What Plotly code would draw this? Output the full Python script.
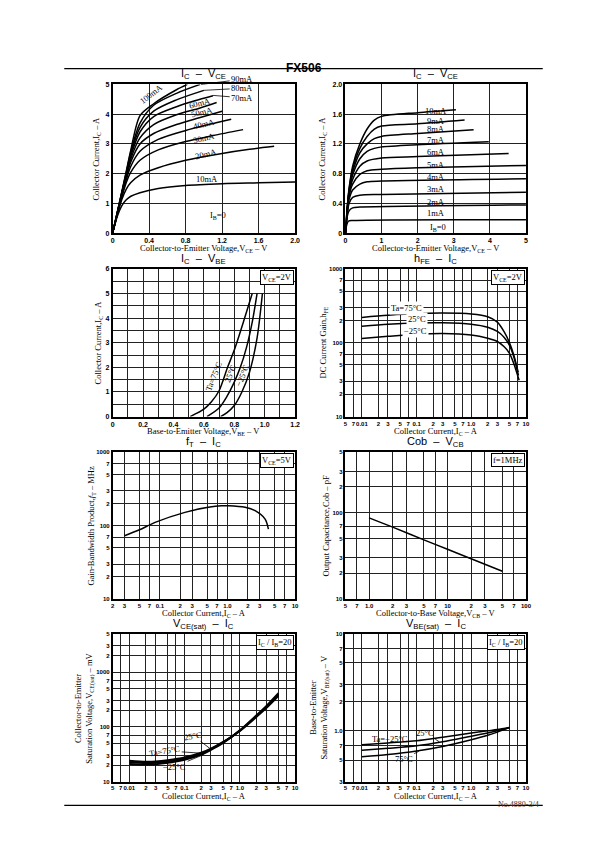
import math
import plotly.graph_objects as go

# ---------------- DATA ----------------
# Panel 1 : IC - VCE (IB = 10 ... 100 mA)
p1_names = ["10mA", "20mA", "30mA", "40mA", "50mA", "60mA", "70mA", "80mA", "90mA", "100mA"]
p1_vce = [
    [0, 0.05, 0.1, 0.15, 0.2, 0.3, 0.5, 0.8, 1.2, 1.6, 2.0],
    [0, 0.05, 0.1, 0.15, 0.2, 0.3, 0.5, 0.8, 1.2, 1.5, 1.77],
    [0, 0.05, 0.1, 0.15, 0.2, 0.3, 0.5, 0.8, 1.1, 1.43],
    [0, 0.05, 0.1, 0.15, 0.2, 0.3, 0.5, 0.8, 1.05, 1.3],
    [0, 0.05, 0.1, 0.15, 0.2, 0.3, 0.45, 0.7, 0.95, 1.2],
    [0, 0.05, 0.1, 0.15, 0.2, 0.3, 0.45, 0.7, 0.95, 1.14],
    [0, 0.05, 0.1, 0.15, 0.2, 0.3, 0.45, 0.7, 0.9, 1.1],
    [0, 0.05, 0.1, 0.15, 0.2, 0.3, 0.45, 0.7, 1.0],
    [0, 0.05, 0.1, 0.15, 0.2, 0.3, 0.45, 0.7, 0.96],
    [0, 0.05, 0.1, 0.15, 0.2, 0.3, 0.45, 0.7, 0.82],
]
p1_ic = [
    [0, 0.55, 0.92, 1.12, 1.24, 1.36, 1.5, 1.6, 1.66, 1.69, 1.72],
    [0, 0.6, 1.12, 1.48, 1.7, 1.95, 2.2, 2.45, 2.68, 2.82, 2.92],
    [0, 0.62, 1.2, 1.7, 2.05, 2.45, 2.8, 3.08, 3.28, 3.48],
    [0, 0.63, 1.25, 1.8, 2.25, 2.75, 3.15, 3.45, 3.65, 3.83],
    [0, 0.64, 1.28, 1.88, 2.4, 3.0, 3.35, 3.65, 3.88, 4.1],
    [0, 0.65, 1.3, 1.92, 2.5, 3.2, 3.65, 3.98, 4.2, 4.39],
    [0, 0.66, 1.32, 1.96, 2.6, 3.4, 3.92, 4.25, 4.45, 4.62],
    [0, 0.67, 1.34, 2.0, 2.68, 3.55, 4.1, 4.48, 4.8],
    [0, 0.68, 1.36, 2.04, 2.74, 3.7, 4.3, 4.7, 5.0],
    [0, 0.69, 1.38, 2.08, 2.8, 3.95, 4.35, 4.82, 5.0],
]

# Panel 2 : IC - VCE (IB = 1 ... 10 mA)
p2_names = ["1mA", "2mA", "3mA", "4mA", "5mA", "6mA", "7mA", "8mA", "9mA", "10mA"]
p2_vce = [
    [0, 0.03, 0.08, 0.2, 5],
    [0, 0.04, 0.1, 0.2, 0.4, 5],
    [0, 0.05, 0.1, 0.2, 0.4, 1, 5],
    [0, 0.05, 0.1, 0.2, 0.4, 0.6, 1, 5],
    [0, 0.05, 0.1, 0.2, 0.4, 0.6, 1, 2, 5],
    [0, 0.05, 0.1, 0.2, 0.4, 0.6, 1, 2, 4.52],
    [0, 0.05, 0.1, 0.2, 0.4, 0.6, 0.8, 1, 2, 3.97],
    [0, 0.05, 0.1, 0.2, 0.4, 0.6, 0.8, 1, 2, 3.55],
    [0, 0.05, 0.1, 0.2, 0.4, 0.6, 0.8, 1, 2, 3.3],
    [0, 0.05, 0.1, 0.2, 0.4, 0.6, 0.8, 1, 2, 3.06],
]
p2_ic = [
    [0, 0.1, 0.16, 0.17, 0.18],
    [0, 0.2, 0.3, 0.34, 0.35, 0.38],
    [0, 0.25, 0.4, 0.48, 0.51, 0.52, 0.55],
    [0, 0.28, 0.45, 0.58, 0.66, 0.69, 0.7, 0.73],
    [0, 0.3, 0.5, 0.66, 0.79, 0.84, 0.86, 0.88, 0.91],
    [0, 0.3, 0.52, 0.72, 0.9, 0.97, 1.01, 1.03, 1.07],
    [0, 0.32, 0.55, 0.78, 1.0, 1.1, 1.14, 1.16, 1.19, 1.23],
    [0, 0.33, 0.56, 0.82, 1.08, 1.2, 1.27, 1.3, 1.34, 1.39],
    [0, 0.34, 0.58, 0.86, 1.14, 1.3, 1.4, 1.44, 1.47, 1.52],
    [0, 0.35, 0.6, 0.9, 1.2, 1.4, 1.52, 1.57, 1.62, 1.66],
]
p2_label_ic = [0.27, 0.42, 0.59, 0.76, 0.92, 1.09, 1.25, 1.40, 1.51, 1.64]

# Panel 3 : IC - VBE
p3_vbe_75 = [0.51, 0.6, 0.65, 0.7, 0.756, 0.8, 0.86, 0.918]
p3_ic_75 = [0, 0.3, 0.6, 1.05, 2.0, 2.7, 3.84, 5.0]
p3_vbe_25 = [0.62, 0.7, 0.75, 0.8, 0.84, 0.88, 0.92, 0.95]
p3_ic_25 = [0, 0.35, 0.8, 1.4, 2.0, 2.8, 3.9, 5.0]
p3_vbe_m25 = [0.71, 0.75, 0.8, 0.85, 0.9, 0.95, 0.985]
p3_ic_m25 = [0, 0.15, 0.45, 1.0, 1.8, 3.2, 5.0]

# Panel 4 : hFE - IC
p4_ic = [0.01, 0.03, 0.1, 0.3, 1.0, 2.0, 3.0, 4.0, 5.0, 6.0]
p4_hfe_75 = [220, 235, 248, 252, 245, 225, 190, 140, 100, 68]
p4_hfe_25 = [167, 178, 185, 186, 178, 162, 142, 118, 92, 64]
p4_hfe_m25 = [114, 122, 130, 133, 127, 115, 104, 88, 72, 52]
p4_end_ic = [7.2, 7.3, 7.5]
p4_end_hfe = [40, 36, 31]

# Panel 5 : fT - IC
p5_ic = [0.03, 0.05, 0.085, 0.235, 0.52, 0.82, 1.03, 1.82, 2.56, 3.6, 4.03]
p5_ft = [73, 88, 111, 152, 178, 187, 187, 178, 160, 123, 90]

# Panel 6 : Cob - VCB
p6_vcb = [1, 2, 5, 10, 20, 50]
p6_cob = [87, 68, 48.5, 37.7, 29.3, 21]

# Panel 7 : VCE(sat) - IC
p7_ic = [0.01, 0.02, 0.03, 0.05, 0.1, 0.2, 0.3, 0.5, 1.0, 2.0, 3.0, 5.0]
p7_v_75 = [24, 23, 23.2, 24.5, 27.5, 33.5, 40, 53, 84, 152, 220, 370]
p7_v_25 = [22.5, 21.8, 22, 23.2, 26, 32, 39, 52, 85, 158, 230, 390]
p7_v_m25 = [21, 20.5, 20.8, 22, 25, 31, 38, 51, 86, 162, 238, 410]

# Panel 8 : VBE(sat) - IC
p8_ic = [0.01, 0.03, 0.1, 0.3, 1.0, 2.0, 3.0, 5.0]
p8_v_m25 = [0.72, 0.75, 0.79, 0.86, 0.95, 1.0, 1.03, 1.08]
p8_v_25 = [0.63, 0.66, 0.70, 0.77, 0.88, 0.95, 1.0, 1.08]
p8_v_75 = [0.54, 0.57, 0.62, 0.69, 0.81, 0.90, 0.97, 1.08]

# Tick labels
lin1_x = [0, 0.4, 0.8, 1.2, 1.6, 2.0]
lin1_xt = ["0", "0.4", "0.8", "1.2", "1.6", "2.0"]
lin1_y = [0, 1, 2, 3, 4, 5]
lin2_x = [0, 1, 2, 3, 4, 5]
lin2_y = [0, 0.4, 0.8, 1.2, 1.6, 2.0]
lin2_yt = ["0", "0.4", "0.8", "1.2", "1.6", "2.0"]
lin3_x = [0, 0.2, 0.4, 0.6, 0.8, 1.0, 1.2]
lin3_xt = ["0", "0.2", "0.4", "0.6", "0.8", "1.0", "1.2"]
lin3_y = [0, 1, 2, 3, 4, 5, 6]
logA_x = [0.005, 0.007, 0.01, 0.02, 0.03, 0.05, 0.07, 0.1, 0.2, 0.3, 0.5, 0.7, 1, 2, 3, 5, 7, 10]
logA_xt = ["5", "7", "0.01", "2", "3", "5", "7", "0.1", "2", "3", "5", "7", "1.0", "2", "3", "5", "7", "10"]
logB_x = [0.02, 0.03, 0.05, 0.07, 0.1, 0.2, 0.3, 0.5, 0.7, 1, 2, 3, 5, 7, 10]
logB_xt = ["2", "3", "5", "7", "0.1", "2", "3", "5", "7", "1.0", "2", "3", "5", "7", "10"]
logC_x = [0.5, 0.7, 1, 2, 3, 5, 7, 10, 20, 30, 50, 70, 100]
logC_xt = ["5", "7", "1.0", "2", "3", "5", "7", "10", "2", "3", "5", "7", "100"]
logY1000 = [10, 20, 30, 50, 70, 100, 200, 300, 500, 700, 1000]
logY1000_t = ["10", "2", "3", "5", "7", "100", "2", "3", "5", "7", "1000"]
logY500 = [10, 20, 30, 50, 70, 100, 200, 300, 500]
logY500_t = ["10", "2", "3", "5", "7", "100", "2", "3", "5"]
logY5000 = [10, 20, 30, 50, 70, 100, 200, 300, 500, 700, 1000, 2000, 3000, 5000]
logY5000_t = ["10", "2", "3", "5", "7", "100", "2", "3", "5", "7", "1000", "2", "3", "5"]
logY10 = [0.3, 0.5, 0.7, 1, 2, 3, 5, 7, 10]
logY10_t = ["3", "5", "7", "1.0", "2", "3", "5", "7", "10"]

# ---------------- LAYOUT ----------------
W, H = 595, 842
COLS = [(104, 289), (340, 523)]
ROWS = [(73, 223), (259, 408), (444, 592), (627, 776)]
SERIF = "Liberation Serif"
SANS = "Liberation Sans"
L = math.log10

fig = go.Figure()
layout = {}
ann = []
TICKFONT = dict(family=SANS, size=7, color="black", weight="bold")
LOGFONT = dict(family=SANS, size=6, color="black", weight="bold")


def names(i):
    return ("x" if i == 1 else f"x{i}", "y" if i == 1 else f"y{i}")


def setup(i, col, row, xcfg, ycfg):
    x0, x1 = COLS[col]
    y0, y1 = ROWS[row]
    xn, yn = names(i)
    common = dict(showline=True, linecolor="black", linewidth=1.5, mirror=True,
                  showgrid=True, gridcolor="#222222", gridwidth=0.8, zeroline=False,
                  ticks="", fixedrange=True, tickangle=0, tickfont=TICKFONT)
    layout["xaxis" if i == 1 else f"xaxis{i}"] = {**common, "domain": [x0 / W, x1 / W], "anchor": yn, **xcfg}
    layout["yaxis" if i == 1 else f"yaxis{i}"] = {**common, "domain": [1 - y1 / H, 1 - y0 / H], "anchor": xn, **ycfg}


def titles(col, row, title, ytitle, xtitle, yx, cond=None):
    x0, x1 = COLS[col]
    y0, y1 = ROWS[row]
    ann.append(dict(text=title, x=(x0 + x1) / 2 / W, y=1 - (y0 - 1) / H, xref="paper", yref="paper",
                    xanchor="center", yanchor="bottom", showarrow=False,
                    font=dict(family=SANS, size=11, color="black")))
    ann.append(dict(text=ytitle, x=yx / W, y=1 - (y0 + y1) / 2 / H, xref="paper", yref="paper",
                    xanchor="center", yanchor="middle", textangle=-90, showarrow=False,
                    font=dict(family=SERIF, size=8.5, color="black")))
    ann.append(dict(text=xtitle, x=(x0 + x1) / 2 / W, y=1 - (y1 + 15) / H, xref="paper", yref="paper",
                    xanchor="center", yanchor="middle", showarrow=False,
                    font=dict(family=SERIF, size=8.5, color="black")))
    if cond:
        ann.append(dict(text=cond, x=(x1 - 1) / W, y=1 - (y0 + 1) / H, xref="paper", yref="paper",
                        xanchor="right", yanchor="top", showarrow=False, bgcolor="white",
                        bordercolor="black", borderwidth=1, borderpad=1,
                        font=dict(family=SERIF, size=8.5, color="black")))


def line(i, x, y, w=1.5):
    xn, yn = names(i)
    fig.add_trace(go.Scatter(x=x, y=y, mode="lines", xaxis=xn, yaxis=yn, hoverinfo="skip",
                             line=dict(color="black", width=w, shape="spline", smoothing=0.8)))


def lab(i, text, x, y, angle=0, bg=None, tx=None, ty=None, size=8.5):
    xn, yn = names(i)
    d = dict(text=text, x=x, y=y, xref=xn, yref=yn, textangle=angle, showarrow=False,
             font=dict(family=SERIF, size=size, color="black"))
    if bg:
        d["bgcolor"] = bg
    if tx is not None:
        d.update(showarrow=True, x=tx, y=ty, ax=x, ay=y, axref=xn, ayref=yn,
                 arrowhead=0, arrowwidth=0.8, arrowcolor="black")
    ann.append(d)


def logx(vals, text, lo, hi):
    return dict(type="log", range=[L(lo), L(hi)], tickvals=vals, ticktext=text, tickfont=LOGFONT)


def logy(vals, text, lo, hi):
    return dict(type="log", range=[L(lo), L(hi)], tickvals=vals, ticktext=text, tickfont=LOGFONT)


# Panel 1
setup(1, 0, 0, dict(range=[0, 2], tickvals=lin1_x, ticktext=lin1_xt),
      dict(range=[0, 5], tickvals=lin1_y))
for vx, iy in zip(p1_vce, p1_ic):
    line(1, vx, iy)
titles(0, 0, "I<sub>C</sub>  –  V<sub>CE</sub>", "Collector Current,I<sub>C</sub> – A",
       "Collector-to-Emitter Voltage,V<sub>CE</sub> – V", 88)
lab(1, "10mA", 1.03, 1.83)
lab(1, "20mA", 1.02, 2.66, -14)
lab(1, "30mA", 1.0, 3.2, -14)
lab(1, "40mA", 1.0, 3.67, -14)
lab(1, "50mA", 0.98, 4.08, -14)
lab(1, "60mA", 0.96, 4.36, -14)
lab(1, "100mA", 0.42, 4.68, -38)
lab(1, "90mA", 1.42, 5.17, tx=0.97, ty=5.0)
lab(1, "80mA", 1.42, 4.87, tx=1.0, ty=4.8)
lab(1, "70mA", 1.42, 4.55, tx=1.1, ty=4.63)
lab(1, "I<sub>B</sub>=0", 1.16, 0.6)

# Panel 2
setup(2, 1, 0, dict(range=[0, 5], tickvals=lin2_x),
      dict(range=[0, 2], tickvals=lin2_y, ticktext=lin2_yt))
for vx, iy in zip(p2_vce, p2_ic):
    line(2, vx, iy)
titles(1, 0, "I<sub>C</sub>  –  V<sub>CE</sub>", "Collector Current,I<sub>C</sub> – A",
       "Collector-to-Emitter Voltage,V<sub>CE</sub> – V", 317)
for nm, yv in zip(p2_names, p2_label_ic):
    lab(2, nm, 2.5, yv)
lab(2, "I<sub>B</sub>=0", 2.55, 0.07)

# Panel 3
setup(3, 0, 1, dict(range=[0, 1.2], tickvals=lin3_x, ticktext=lin3_xt,
                    minor=dict(dtick=0.1, tick0=0, showgrid=True, gridcolor="#222222", gridwidth=0.8, ticks="")),
      dict(range=[0, 6], tickvals=lin3_y,
           minor=dict(dtick=0.5, tick0=0, showgrid=True, gridcolor="#222222", gridwidth=0.8, ticks="")))
line(3, p3_vbe_75, p3_ic_75)
line(3, p3_vbe_25, p3_ic_25)
line(3, p3_vbe_m25, p3_ic_m25)
titles(0, 1, "I<sub>C</sub>  –  V<sub>BE</sub>", "Collector Current,I<sub>C</sub> – A",
       "Base-to-Emitter Voltage,V<sub>BE</sub> – V", 90, "V<sub>CE</sub>=2V")
lab(3, "Ta=75°C", 0.665, 1.65, -68)
lab(3, "25°C", 0.77, 1.75, -68)
lab(3, "−25°C", 0.855, 1.68, -68)

# Panel 4
setup(4, 1, 1, logx(logA_x, logA_xt, 0.005, 10), logy(logY1000, logY1000_t, 10, 1000))
line(4, p4_ic + [p4_end_ic[0]], p4_hfe_75 + [p4_end_hfe[0]])
line(4, p4_ic + [p4_end_ic[1]], p4_hfe_25 + [p4_end_hfe[1]])
line(4, p4_ic + [p4_end_ic[2]], p4_hfe_m25 + [p4_end_hfe[2]])
titles(1, 1, "h<sub>FE</sub>  –  I<sub>C</sub>", "DC Current Gain,h<sub>FE</sub>",
       "Collector Current,I<sub>C</sub> – A", 318, "V<sub>CE</sub>=2V")
lab(4, "Ta=75°C", L(0.065), L(292), bg="white")
lab(4, "25°C", L(0.103), L(210), bg="white")
lab(4, "−25°C", L(0.095), L(146), bg="white")

# Panel 5
setup(5, 0, 2, logx(logB_x, logB_xt, 0.02, 10), logy(logY1000, logY1000_t, 10, 1000))
line(5, p5_ic, p5_ft)
titles(0, 2, "f<sub>T</sub>  –  I<sub>C</sub>", "Gain-Bandwidth Product,<i>f</i><sub>T</sub> – MHz",
       "Collector Current,I<sub>C</sub> – A", 83, "V<sub>CE</sub>=5V")

# Panel 6
setup(6, 1, 2, logx(logC_x, logC_xt, 0.5, 100), logy(logY500, logY500_t, 10, 500))
line(6, p6_vcb, p6_cob)
titles(1, 2, "Cob  –  V<sub>CB</sub>", "Output Capacitance,Cob – pF",
       "Collector-to-Base Voltage,V<sub>CB</sub> – V", 320, "f=1MHz")

# Panel 7
setup(7, 0, 3, logx(logA_x, logA_xt, 0.005, 10), logy(logY5000, logY5000_t, 10, 5000))
line(7, p7_ic, p7_v_75, 2)
line(7, p7_ic, p7_v_25, 2)
line(7, p7_ic, p7_v_m25, 2)
titles(0, 3, "V<sub>CE(sat)</sub>  –  I<sub>C</sub>",
       "Collector-to-Emitter<br>Saturation Voltage,V<sub>CE(sat)</sub> – mV",
       "Collector Current,I<sub>C</sub> – A", 76, "I<sub>C</sub> / I<sub>B</sub>=20")
lab(7, "Ta=75°C", L(0.043), L(36.5), -10, tx=L(0.2), ty=L(33))
lab(7, "25°C", L(0.145), L(68), -10, tx=L(0.29), ty=L(40))
lab(7, "−25°C", L(0.066), L(18.7), tx=L(0.22), ty=L(31))

# Panel 8
setup(8, 1, 3, logx(logA_x, logA_xt, 0.005, 10), logy(logY10, logY10_t, 0.3, 10))
line(8, p8_ic, p8_v_m25)
line(8, p8_ic, p8_v_25)
line(8, p8_ic, p8_v_75)
titles(1, 3, "V<sub>BE(sat)</sub>  –  I<sub>C</sub>",
       "Base-to-Emitter<br>Saturation Voltage,V<sub>BE(sat)</sub> – V",
       "Collector Current,I<sub>C</sub> – A", 314, "I<sub>C</sub> / I<sub>B</sub>=20")
lab(8, "Ta=−25°C", L(0.032), L(0.82))
lab(8, "25°C", L(0.145), L(0.96), tx=L(0.26), ty=L(0.77))
lab(8, "75°C", L(0.058), L(0.515), tx=L(0.11), ty=L(0.615))

# Page header / footer
ann.append(dict(text="<b>FX506</b>", x=297.5 / W, y=1 - 47 / H, xref="paper", yref="paper",
                showarrow=False, font=dict(family=SANS, size=12, color="black")))
ann.append(dict(text="No.4880-3/4", x=538 / W, y=1 - 806 / H, xref="paper", yref="paper",
                xanchor="right", showarrow=False, font=dict(family=SERIF, size=8, color="#333333")))
shapes = [
    dict(type="line", xref="paper", yref="paper", x0=55 / W, x1=540 / W, y0=1 - 57 / H, y1=1 - 57 / H,
         line=dict(color="black", width=1.2)),
    dict(type="line", xref="paper", yref="paper", x0=55 / W, x1=540 / W, y0=1 - 800 / H, y1=1 - 800 / H,
         line=dict(color="black", width=1.2)),
]

fig.update_layout(width=W, height=H, margin=dict(l=0, r=0, t=0, b=0), showlegend=False,
                  paper_bgcolor="white", plot_bgcolor="white", annotations=ann, shapes=shapes,
                  **layout)
fig.write_html("out.html")
